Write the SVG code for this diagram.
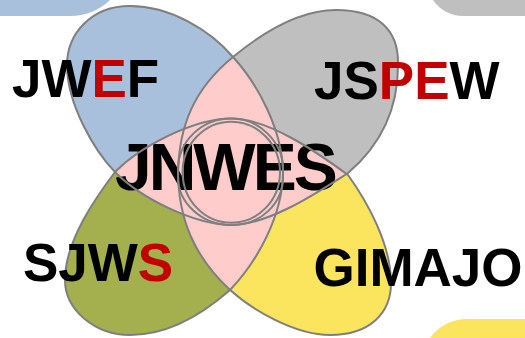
<svg xmlns="http://www.w3.org/2000/svg" xmlns:xlink="http://www.w3.org/1999/xlink" width="525" height="338" viewBox="0 0 525 338">
<style>
.lbl{font-family:"Liberation Sans",Arial,sans-serif;font-weight:bold;fill:#000}
.red{fill:#c00000}
.ol{fill:none;stroke:#7f7f7f;stroke-width:2}
.pink{fill:#ffcccc}
</style>
<defs>
<path id="pBlue" d="M130,6 C170,6 210,30 233,57 C256,82 284,130 283,177 C283,204 260,225 233,225 C193,225 139.5,197 115,172 C95.4,152 67,105 67,65 C67,35 90,6 130,6 Z"/>
<path id="pGray" d="M336,10 C378,10 398,30 398,62 C399,115 375,150 348,173 C318,192 269,225 231,225 C202,225 178,203 178,177 C178,125 195,88 233,57 C256,38 296,10 336,10 Z"/>
<path id="pGreen" d="M130,335 C95,335 65,310 65,280 C65,240 97,196 115,172 C139.5,147 193,118.5 232,118.5 C259,118.5 283,142 283,169 C284,215 256,263 230,290 C205,312 170,335 130,335 Z"/>
<path id="pYellow" d="M348,175 C366,200 391,243 391,283 C391,313 370,335 330,335 C295,335 252,310 229,289 C195,257 178,220 178,170 C178,141 202,118.5 231,118.5 C269,118.5 318,153 348,175 Z"/>
<clipPath id="cGray"><use xlink:href="#pGray"/></clipPath>
<clipPath id="cGreen"><use xlink:href="#pGreen"/></clipPath>
<clipPath id="cYellow"><use xlink:href="#pYellow"/></clipPath>
</defs>
<g id="corners">
<path d="M0,0 H110 A58,58 0 0 1 70,16 H0 Z" fill="#a9c0dc"/>
<path d="M433,0 A36,36 0 0 0 463,16 H525 V0 Z" fill="#bfbfbf"/>
<path d="M430,338 A45.5,45.5 0 0 1 467,319 H525 V338 Z" fill="#fbe55f"/>
</g>
<g id="petal-JWEF"><use xlink:href="#pBlue" fill="#a9c0dc"/></g>
<g id="petal-JSPEW"><use xlink:href="#pGray" fill="#bfbfbf"/></g>
<g id="petal-SJWS"><use xlink:href="#pGreen" fill="#a3b04d"/></g>
<g id="petal-GIMAJO"><use xlink:href="#pYellow" fill="#fbe55f"/></g>
<g id="center-JNWES">
<use xlink:href="#pBlue" class="pink" clip-path="url(#cGray)"/>
<use xlink:href="#pBlue" class="pink" clip-path="url(#cGreen)"/>
<use xlink:href="#pBlue" class="pink" clip-path="url(#cYellow)"/>
<use xlink:href="#pGray" class="pink" clip-path="url(#cGreen)"/>
<use xlink:href="#pGray" class="pink" clip-path="url(#cYellow)"/>
<use xlink:href="#pGreen" class="pink" clip-path="url(#cYellow)"/>
<text class="lbl" x="115" y="190" font-size="66" letter-spacing="-3">JNWES</text>
</g>
<g id="outlines">
<use xlink:href="#pBlue" class="ol"/>
<use xlink:href="#pGray" class="ol"/>
<use xlink:href="#pGreen" class="ol"/>
<use xlink:href="#pYellow" class="ol"/>
<ellipse cx="231.3" cy="172.2" rx="48.7" ry="50.5" class="ol"/>
</g>
<g id="labels">
<text class="lbl" x="12" y="97" font-size="53">JW<tspan class="red">E</tspan>F</text>
<text class="lbl" x="314" y="99" font-size="53">JS<tspan class="red">PE</tspan>W</text>
<text class="lbl" x="23" y="281" font-size="53">SJW<tspan class="red">S</tspan></text>
<text class="lbl" x="313.5" y="285.5" font-size="53">GIMAJO</text>
</g>
</svg>
